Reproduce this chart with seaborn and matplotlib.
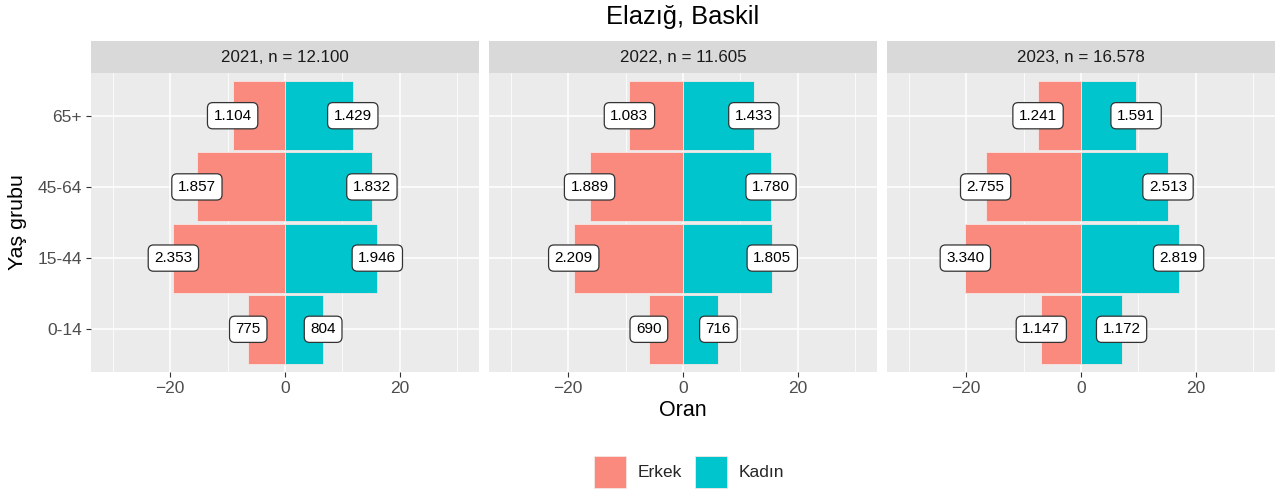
import matplotlib
matplotlib.use("Agg")
import matplotlib.pyplot as plt
from matplotlib.patches import Patch
from matplotlib.ticker import FixedLocator
import seaborn as sns
import pandas as pd

# Population counts by age group (bottom to top order)
age_groups = ["0-14", "15-44", "45-64", "65+"]
years = [2021, 2022, 2023]

erkek_2021 = [775, 2353, 1857, 1104]
kadin_2021 = [804, 1946, 1832, 1429]
erkek_2022 = [690, 2209, 1889, 1083]
kadin_2022 = [716, 1805, 1780, 1433]
erkek_2023 = [1147, 3340, 2755, 1241]
kadin_2023 = [1172, 2819, 2513, 1591]

erkek_counts = [erkek_2021, erkek_2022, erkek_2023]
kadin_counts = [kadin_2021, kadin_2022, kadin_2023]

sexes = ["Erkek", "Kadın"]
colors = {"Erkek": "#F98A7D", "Kadın": "#00C5CD"}


def tr_num(v):
    return f"{v:,}".replace(",", ".")


rows = []
totals = {}
for yr, er, ka in zip(years, erkek_counts, kadin_counts):
    n = sum(er) + sum(ka)
    totals[yr] = n
    for age, e, k in zip(age_groups, er, ka):
        rows.append(dict(year=yr, age=age, sex="Erkek", count=e, oran=-e / n * 100))
        rows.append(dict(year=yr, age=age, sex="Kadın", count=k, oran=k / n * 100))
df = pd.DataFrame(rows)

sns.set_theme(style="white")
plt.rcParams["font.family"] = ["Liberation Sans", "DejaVu Sans"]

W, H = 1279, 492
fig = plt.figure(figsize=(W / 100, H / 100), dpi=100)
fig.patch.set_facecolor("white")

panel_lefts = [91, 489, 887]
panel_w = 388
panel_top, panel_bot = 73, 372
strip_top = 41

top_down = age_groups[::-1]

for i, yr in enumerate(years):
    x0 = panel_lefts[i] / W
    ax = fig.add_axes([x0, 1 - panel_bot / H, panel_w / W, (panel_bot - panel_top) / H])
    ax.set_facecolor("#EBEBEB")
    sub = df[df.year == yr]

    # Grid first, bars on top
    ax.set_axisbelow(True)
    sns.barplot(data=sub, y="age", x="oran", hue="sex", order=top_down,
                hue_order=sexes, palette=colors, dodge=False, width=0.97,
                orient="h", errorbar=None, saturation=1, legend=False,
                linewidth=0.6, edgecolor="#F6E6E4", ax=ax)

    for _, r in sub.iterrows():
        ypos = top_down.index(r["age"])
        ax.text(r["oran"], ypos, tr_num(r["count"]), ha="center", va="center",
                fontsize=11, color="black", zorder=5,
                bbox=dict(boxstyle="round,pad=0.4,rounding_size=0.35",
                          fc="white", ec="#333333", lw=0.9))

    ax.set_xlim(-33.8, 33.8)
    ax.set_ylim(3.6, -0.6)
    ax.xaxis.set_major_locator(FixedLocator([-20, 0, 20]))
    ax.xaxis.set_minor_locator(FixedLocator([-30, -10, 10, 30]))
    ax.grid(which="major", color="white", lw=1.1)
    ax.grid(which="minor", axis="x", color="white", lw=0.55)
    for s in ax.spines.values():
        s.set_visible(False)
    ax.set_xlabel("")
    ax.set_ylabel("")
    ax.tick_params(axis="both", which="major", length=3.6, width=0.8,
                   color="#333333", labelcolor="#4D4D4D", labelsize=12.5, pad=3,
                   bottom=True, left=True)
    ax.tick_params(axis="both", which="minor", length=0)
    if i > 0:
        ax.tick_params(axis="y", which="major", length=0, labelleft=False)

    # Facet strip
    sax = fig.add_axes([x0, 1 - panel_top / H, panel_w / W, (panel_top - strip_top) / H])
    sax.set_facecolor("#D9D9D9")
    sax.set_xticks([])
    sax.set_yticks([])
    for s in sax.spines.values():
        s.set_visible(False)
    sax.text(0.5, 0.5, f"{yr}, n = {tr_num(totals[yr])}", ha="center", va="center",
             fontsize=12.2, color="#1A1A1A", transform=sax.transAxes)

mid_x = (panel_lefts[0] + panel_lefts[2] + panel_w) / 2 / W
fig.text(mid_x, 1 - 17 / H, "Elazığ, Baskil", ha="center", va="center",
         fontsize=18.4, color="black")
fig.text(mid_x, 1 - 410 / H, "Oran", ha="center", va="center",
         fontsize=15.5, color="black")
fig.text(18 / W, 1 - 222 / H, "Yaş grubu", ha="center",
         va="center", rotation=90, fontsize=15.4, color="black")

handles = [Patch(facecolor=colors[s], edgecolor="#F6E6E4", lw=0.6, label=s) for s in sexes]
fig.legend(handles=handles, loc="center", bbox_to_anchor=(689 / W, 1 - 472 / H),
           ncol=2, frameon=False, fontsize=12.5, handlelength=1.84, handleheight=2.45,
           handletextpad=0.69, columnspacing=0.75, borderaxespad=0, borderpad=0)

fig.savefig("out.png", dpi=100, facecolor="white")
